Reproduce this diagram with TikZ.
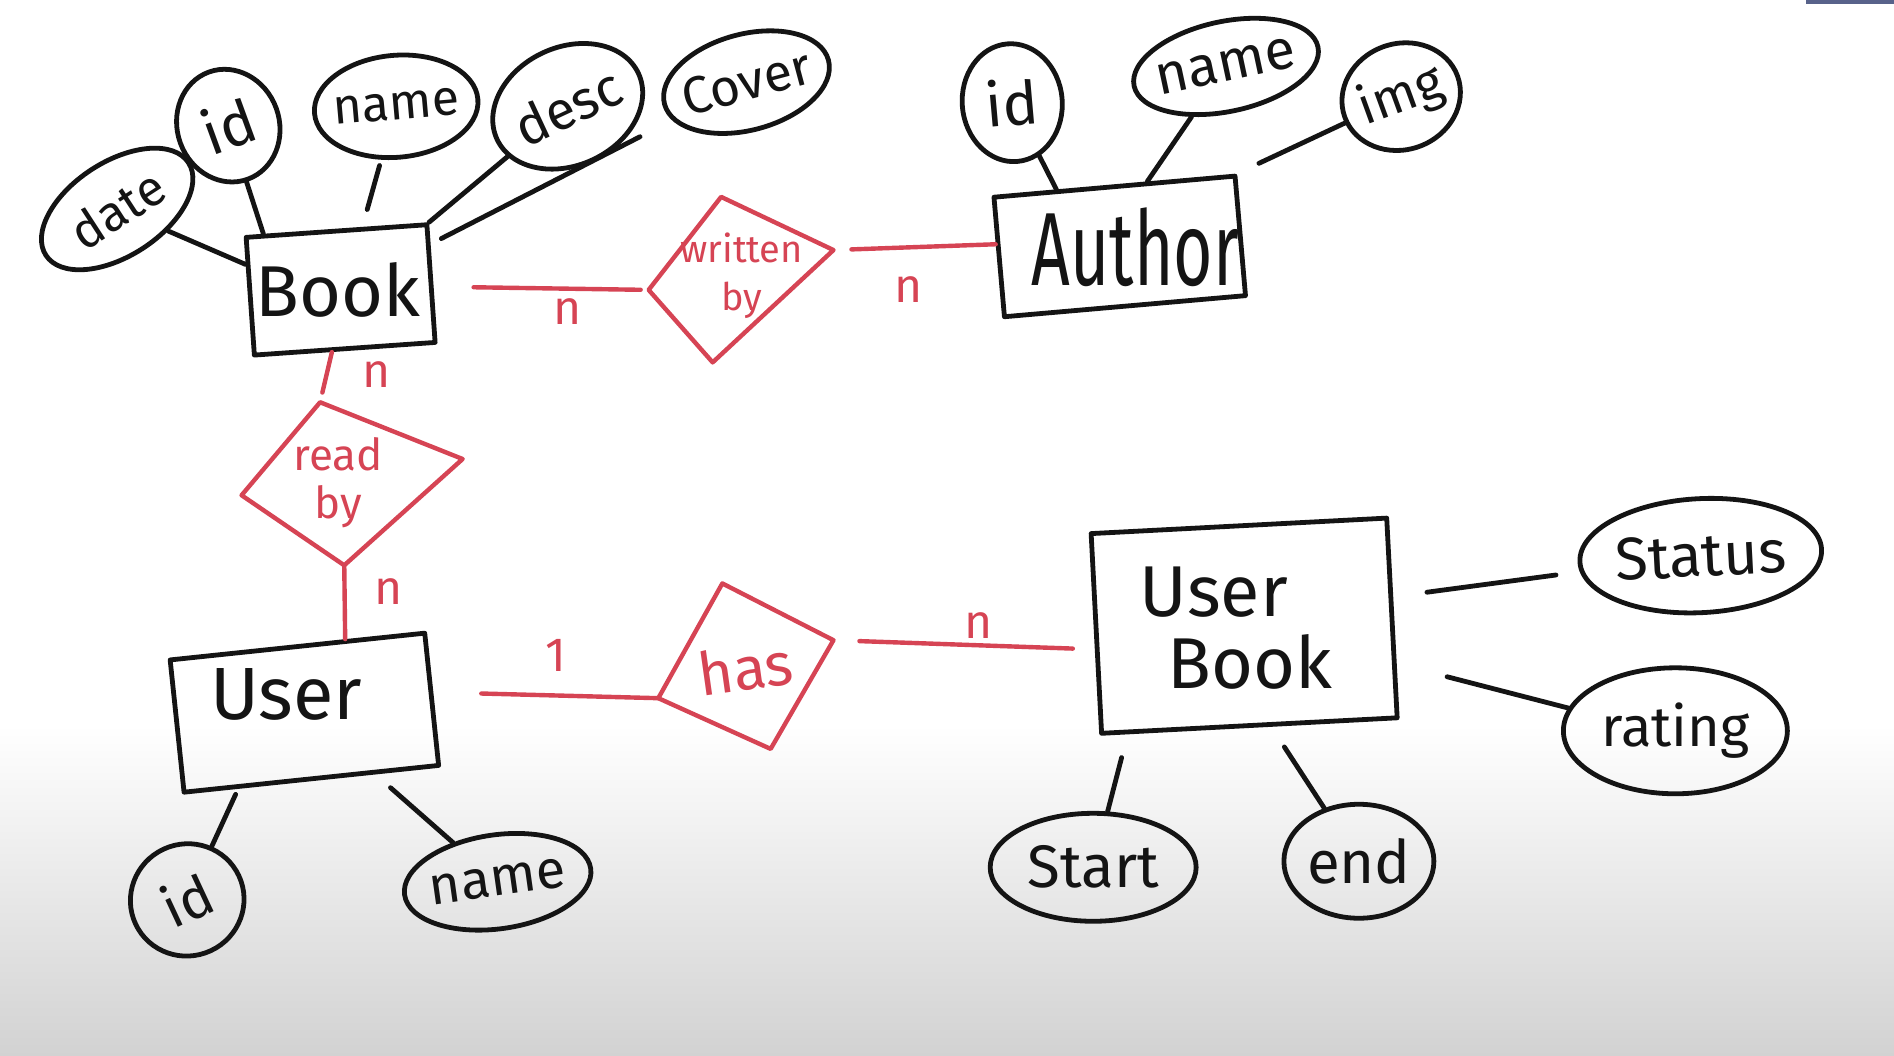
\documentclass[tikz,border=0pt]{standalone}
\usepackage{fontspec}
\setmainfont{Fira Sans}
\usetikzlibrary{shapes.geometric}
\definecolor{inkc}{RGB}{20,20,20}
\definecolor{redink}{RGB}{214,68,84}
\definecolor{barblue}{RGB}{88,98,138}
\definecolor{bottomgray}{RGB}{210,210,210}
\newcommand\myfs[1]{\fontsize{#1}{#1}\selectfont}
\tikzset{
 inkline/.style={line width=2.4pt, draw=inkc, line cap=round, line join=round},
 redline/.style={line width=2.2pt, draw=redink, line cap=round, line join=round},
 entbox/.style={rectangle, inkline, inner sep=0pt},
 enttext/.style={text=inkc, inner sep=0pt},
 attr/.style={ellipse, inkline, inner xsep=-3pt, inner ysep=-2pt, text=inkc},
 reltext/.style={text=redink, align=center, inner sep=0pt},
 card/.style={text=redink, inner sep=0pt, font=\myfs{24}},
}
\begin{document}
\begin{tikzpicture}[x=0.604pt,y=-0.604pt]
\useasboundingbox (0,0) rectangle (1568,874);
\fill[white] (0,0) rectangle (1568,874);
\shade[top color=white,bottom color=bottomgray] (0,600) rectangle (1568,874);
\fill[barblue] (1495,0) rectangle (1568,3.5);

% entities
\node[entbox, minimum width=90.6pt, minimum height=59pt, rotate=4] (Book) at (282,240) {};
\node[enttext, font=\myfs{36}] (BookT) at (280,240) {Book};
\node[entbox, minimum width=121pt, minimum height=60pt, rotate=5] (Author) at (927,204) {};
\node[enttext, font=\myfs{52}, xscale=0.65] (AuthorT) at (940,205) {Author};
\node[entbox, minimum width=128pt, minimum height=66.5pt, rotate=6] (User) at (252,590) {};
\node[enttext, font=\myfs{37}] (UserT) at (237,575) {User};
\node[entbox, minimum width=148pt, minimum height=100pt, rotate=3] (UB) at (1030,518) {};
\node[enttext, font=\myfs{36}] (UBT1) at (1005,490) {User};
\node[enttext, font=\myfs{36}] (UBT2) at (1035,548) {Book};

% attributes
\node[attr, minimum width=85pt, minimum height=47pt, rotate=33, font=\myfs{25}] (date) at (97,173) {date};
\node[attr, minimum width=51pt, minimum height=57pt, rotate=20, font=\myfs{30}] (bid) at (189,104) {id};
\node[attr, minimum width=82pt, minimum height=51pt, rotate=5, font=\myfs{25}] (bname) at (328,88) {name};
\node[attr, minimum width=78pt, minimum height=59pt, rotate=25, font=\myfs{27}] (desc) at (470,88) {desc};
\node[attr, minimum width=83pt, minimum height=48pt, rotate=15, font=\myfs{26}] (cover) at (618,68) {Cover};
\node[attr, minimum width=50pt, minimum height=59pt, rotate=5, font=\myfs{30}] (aid) at (838,85) {id};
\node[attr, minimum width=94pt, minimum height=45pt, rotate=12, font=\myfs{28}] (aname) at (1015,55) {name};
\node[attr, minimum width=60pt, minimum height=53pt, rotate=20, font=\myfs{26}] (img) at (1160,80) {img};
\node[attr, minimum width=57pt, minimum height=56pt, rotate=25, font=\myfs{28}] (uid) at (155,745) {id};
\node[attr, minimum width=94pt, minimum height=47pt, rotate=8, font=\myfs{27}] (uname) at (412,730) {name};
\node[attr, minimum width=121pt, minimum height=57pt, rotate=3, font=\myfs{30}] (status) at (1408,460) {Status};
\node[attr, minimum width=112pt, minimum height=63pt, font=\myfs{28}] (rating) at (1387,605) {rating};
\node[attr, minimum width=103pt, minimum height=54pt, font=\myfs{30}] (start) at (905,718) {Start};
\node[attr, minimum width=75pt, minimum height=57pt, font=\myfs{30}] (endA) at (1125,713) {end};

% relationships
\coordinate (wbL) at (537,240); \coordinate (wbT) at (597,163);
\coordinate (wbR) at (690,207); \coordinate (wbB) at (590,300);
\draw[redline] (wbL) -- (wbT) -- (wbR) -- (wbB) -- cycle;
\node[reltext, font=\fontsize{19}{24}\selectfont] (wb) at (614,228) {written\\by};

\coordinate (rbL) at (200,410); \coordinate (rbT) at (265,333);
\coordinate (rbR) at (383,380); \coordinate (rbB) at (285,468);
\draw[redline] (rbL) -- (rbT) -- (rbR) -- (rbB) -- cycle;
\node[reltext, font=\fontsize{22}{24}\selectfont] (rb) at (280,400) {read\\by};

\coordinate (hasL) at (545,578); \coordinate (hasT) at (598,483);
\coordinate (hasR) at (690,530); \coordinate (hasB) at (638,620);
\draw[redline] (hasL) -- (hasT) -- (hasR) -- (hasB) -- cycle;
\node[reltext, font=\myfs{30}, rotate=8] (has) at (617,553) {has};

% cardinalities
\node[card] (c1) at (470,258) {n};
\node[card] (c2) at (752,240) {n};
\node[card] (c3) at (312,310) {n};
\node[card] (c4) at (322,490) {n};
\node[card] (c5) at (460,543) {1};
\node[card] (c6) at (810,518) {n};

% attribute connectors
\draw[inkline] (date) -- (Book.161);
\draw[inkline] (bid) -- (Book.140);
\draw[inkline, shorten <=3pt, shorten >=9pt] (bname) -- (Book.67);
\draw[inkline] (desc) -- (Book.north east);
\draw[inkline, shorten <=18pt, shorten >=6pt] (cover) -- (Book.23);
\draw[inkline] (aid) -- (Author.133);
\draw[inkline] (aname) -- (Author.62);
\draw[inkline, shorten >=12pt] (img) -- (Author.north east);
\draw[inkline, shorten >=3pt] (uid) -- (User.223);
\draw[inkline, shorten >=10pt] (uname) -- (User.313);
\draw[inkline, shorten <=12pt, shorten >=17pt] (status) -- (UB.8);
\draw[inkline, shorten >=26pt] (rating.168) -- (UB.343);
\draw[inkline, shorten >=12pt] (start) -- (UB.220);
\draw[inkline, shorten >=12pt] (endA) -- (UB.282);

% relationship connectors
\draw[redline, shorten <=20pt, shorten >=4pt] (Book.358) -- (wbL);
\draw[redline, shorten <=9pt] (wbR) -- (Author.174);
\draw[redline, shorten >=5pt] (Book.258) -- (rbT);
\draw[redline] (rbB) -- (User.55);
\draw[redline, shorten <=24pt] (User.3) -- (hasL);
\draw[redline, shorten <=13pt, shorten >=11pt] (hasR) -- (UB.186);
\end{tikzpicture}
\end{document}
